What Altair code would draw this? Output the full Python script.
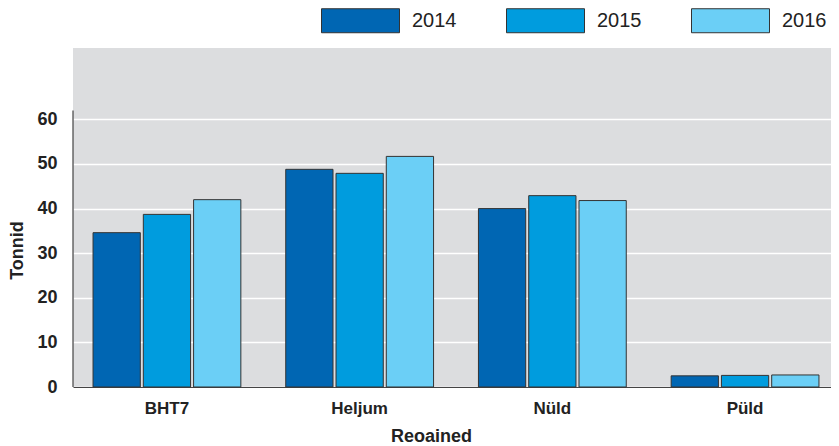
import altair as alt
import pandas as pd

regions = ["BHT7", "Heljum", "Nüld", "Püld"]
years = ["2014", "2015", "2016"]
v2014 = [34.6, 48.8, 40.0, 2.5]
v2015 = [38.7, 47.9, 42.9, 2.6]
v2016 = [42.0, 51.7, 41.8, 2.7]
y_ticks = [0, 10, 20, 30, 40, 50, 60]
colors = ["#0066B3", "#009CDE", "#6BCFF6"]

rows = []
for vals, yr in zip([v2014, v2015, v2016], years):
    for r, v in zip(regions, vals):
        rows.append({"Regioon": r, "Aasta": yr, "Tonnid": v})
df = pd.DataFrame(rows)

FONT = "Liberation Sans"
TXT = "#222222"

bars = alt.Chart(df).mark_bar(stroke="#333333", strokeWidth=1).encode(
    x=alt.X("Regioon:N", sort=regions,
            scale=alt.Scale(paddingInner=0.233, paddingOuter=0.104),
            axis=alt.Axis(title="Reoained", labelAngle=0, ticks=False,
                          domain=True, domainColor="#444444", domainWidth=1.2,
                          labelFontSize=17, labelFontWeight="bold", labelPadding=13,
                          titleFontSize=18, titleFontWeight="bold",
                          titleX=358, titleY=54, titleBaseline="alphabetic",
                          labelColor=TXT, titleColor=TXT, grid=False)),
    xOffset=alt.XOffset("Aasta:N", sort=years,
                        scale=alt.Scale(paddingInner=0.06, paddingOuter=0)),
    y=alt.Y("Tonnid:Q", scale=alt.Scale(domain=[0, 76], nice=False),
            axis=alt.Axis(title="Tonnid", values=y_ticks, ticks=False, domain=False,
                          gridColor="#FFFFFF", gridWidth=1.5,
                          labelFontSize=18, labelFontWeight="bold", labelPadding=16,
                          labelColor=TXT, titleColor=TXT,
                          titleFontSize=18, titleFontWeight="bold",
                          titleX=-51, titleY=202, titleBaseline="alphabetic")),
    color=alt.Color("Aasta:N", sort=years,
                    scale=alt.Scale(domain=years, range=colors),
                    legend=alt.Legend(title=None, orient="none", direction="horizontal",
                                      legendX=248, legendY=-67,
                                      symbolType="M-1,-0.3077L1,-0.3077L1,0.3077L-1,0.3077Z",
                                      symbolSize=6084, symbolStrokeColor="#333333",
                                      symbolStrokeWidth=1, symbolOpacity=1,
                                      labelFontSize=20, labelColor=TXT,
                                      labelOffset=12, columnPadding=47)),
)

axis_line = alt.Chart(pd.DataFrame({"a": [0]})).mark_rule(
    color="#444444", strokeWidth=1.2
).encode(x=alt.value(0), y=alt.datum(0), y2=alt.datum(62))

chart = alt.layer(bars, axis_line).properties(
    width=766, height=339,
    autosize=alt.AutoSizeParams(type="none"),
    padding={"left": 65, "top": 40, "right": -8, "bottom": 59},
).configure(font=FONT).configure_view(fill="#DCDDDF", stroke=None)

chart.save("out.html", embed_options={"renderer": "svg", "actions": False})
